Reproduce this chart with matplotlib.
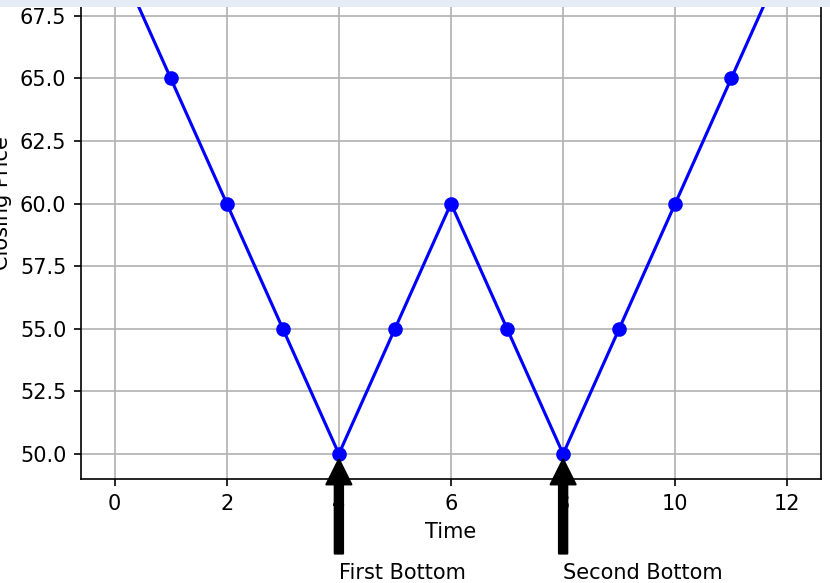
import matplotlib
matplotlib.use("Agg")
import matplotlib.pyplot as plt
from matplotlib.patches import Rectangle

time = [0, 1, 2, 3, 4, 5, 6, 7, 8, 9, 10, 11, 12]
price = [70, 65, 60, 55, 50, 55, 60, 55, 50, 55, 60, 65, 70]
bottoms = [(4, 50, "First Bottom"), (8, 50, "Second Bottom")]

fig = plt.figure(figsize=(830 / 150, 583 / 150), dpi=150)
# axes reach past the top edge, like the cropped screenshot
ax = fig.add_axes([81 / 830, 1 - 479 / 583, 740 / 830, 551 / 583])

ax.plot(time, price, 'b-', marker='o')
ax.set_xlabel('Time')
ax.set_ylabel('Closing Price')
ax.grid(True)

for x, y, label in bottoms:
    ax.annotate(label, xy=(x, y), xytext=(x, y - 5),
                arrowprops=dict(facecolor='black', shrink=0.05),
                annotation_clip=False)

# light strip along the top border of the screenshot
fig.patches.append(Rectangle((0, 1 - 7 / 583), 1, 7 / 583, transform=fig.transFigure,
                             facecolor='#e6ecf5', edgecolor='none', zorder=10))

fig.savefig('out.png', dpi=150)
